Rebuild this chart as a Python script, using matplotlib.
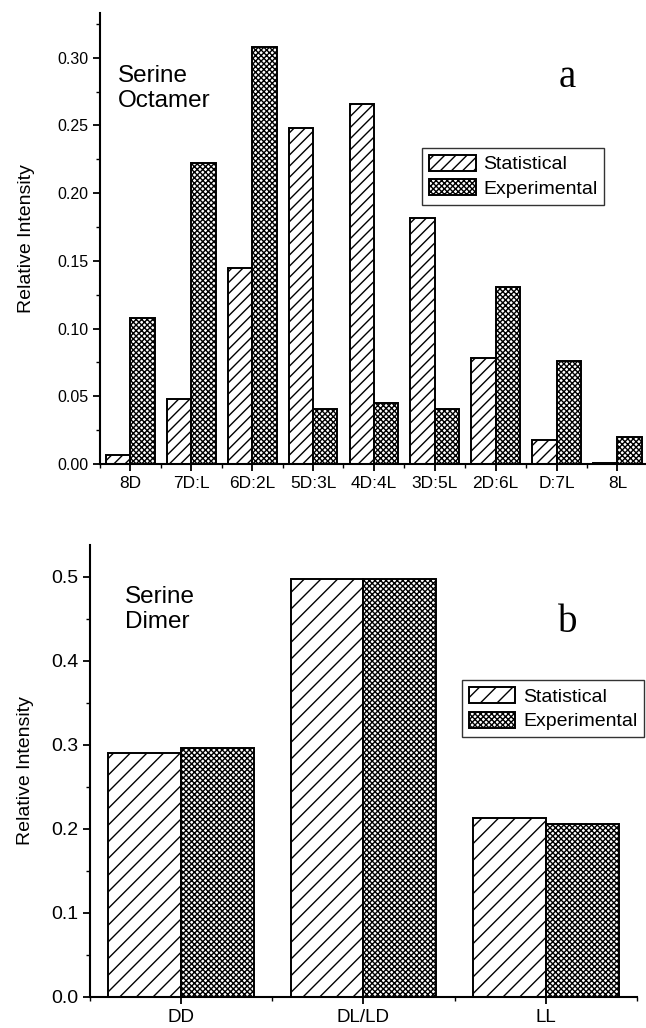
import numpy as np
import matplotlib
matplotlib.use('Agg')
import matplotlib.pyplot as plt
from matplotlib.ticker import MultipleLocator, FormatStrFormatter

# panel a: serine octamer
oct_labels = ['8D', '7D:L', '6D:2L', '5D:3L', '4D:4L', '3D:5L', '2D:6L', 'D:7L', '8L']
oct_stat = [0.007, 0.048, 0.145, 0.248, 0.266, 0.182, 0.078, 0.018, 0.001]
oct_exp = [0.108, 0.222, 0.308, 0.041, 0.045, 0.041, 0.131, 0.076, 0.020]

# panel b: serine dimer
dim_labels = ['DD', 'DL/LD', 'LL']
dim_stat = [0.290, 0.497, 0.213]
dim_exp = [0.296, 0.497, 0.206]

plt.rcParams['font.family'] = ['Liberation Sans', 'DejaVu Sans']
plt.rcParams['hatch.linewidth'] = 1.0

fig = plt.figure(figsize=(6.46, 10.28), dpi=100)


def panel(ax, labels, stat, exp, hatch_s, hatch_e, ylim, xlim, major, minor, fmt,
          xfs, yfs, title, letter, leg_anchor):
    x = np.arange(len(labels))
    w = 0.4
    ax.bar(x - w / 2, stat, w, facecolor='white', edgecolor='black', hatch=hatch_s,
           linewidth=1.4, label='Statistical')
    ax.bar(x + w / 2, exp, w, facecolor='white', edgecolor='black', hatch=hatch_e,
           linewidth=1.4, label='Experimental')
    ax.set_xlim(*xlim)
    ax.set_ylim(*ylim)
    for s in ['top', 'right']:
        ax.spines[s].set_visible(False)
    for s in ['left', 'bottom']:
        ax.spines[s].set_linewidth(1.5)
    ax.set_xticks(x)
    ax.set_xticklabels(labels)
    ax.set_xticks(np.arange(-0.5, len(labels) + 0.5, 1.0), minor=True)
    ax.yaxis.set_major_locator(MultipleLocator(major))
    ax.yaxis.set_minor_locator(MultipleLocator(minor))
    ax.yaxis.set_major_formatter(FormatStrFormatter(fmt))
    ax.tick_params(axis='both', which='major', direction='out', length=5, width=1.3)
    ax.tick_params(axis='x', labelsize=xfs)
    ax.tick_params(axis='y', labelsize=yfs)
    ax.tick_params(axis='both', which='minor', direction='out', length=3, width=1.0)
    ax.set_ylabel('Relative Intensity', fontsize=14)
    ax.text(title[0], title[1], title[2], transform=ax.transAxes, fontsize=17.5,
            va='top', ha='left', linespacing=1.2)
    ax.text(letter[0], letter[1], letter[2], transform=ax.transAxes, fontsize=28,
            family='Liberation Serif', va='baseline', ha='center')
    leg = ax.legend(loc='upper left', bbox_to_anchor=leg_anchor, borderaxespad=0,
                    fontsize=14, frameon=True, fancybox=False, handlelength=2.4,
                    handleheight=0.9, handletextpad=0.4, labelspacing=0.3,
                    borderpad=0.35)
    leg.get_frame().set_edgecolor('black')
    leg.get_frame().set_linewidth(1.0)


ax1 = fig.add_axes([0.1548, 0.5486, 0.848, 0.4387])
panel(ax1, oct_labels, oct_stat, oct_exp, '///', 'xxxxxx', (0, 0.333), (-0.42, 8.46),
      0.05, 0.025, '%.2f', 12.5, 11.5, (0.033, 0.885, 'Serine\nOctamer'),
      (0.853, 0.835, 'a'), (0.588, 0.701))
ax1.yaxis.set_label_coords(-0.119, 0.5)

ax2 = fig.add_axes([0.1393, 0.0302, 0.8467, 0.4397])
panel(ax2, dim_labels, dim_stat, dim_exp, '//', 'xxxxxx', (0, 0.538), (-0.5, 2.5),
      0.1, 0.05, '%.1f', 13.5, 14, (0.064, 0.909, 'Serine\nDimer'),
      (0.874, 0.807, 'b'), (0.68, 0.701))
ax2.yaxis.set_label_coords(-0.102, 0.5)

fig.savefig('out.png', dpi=100)
